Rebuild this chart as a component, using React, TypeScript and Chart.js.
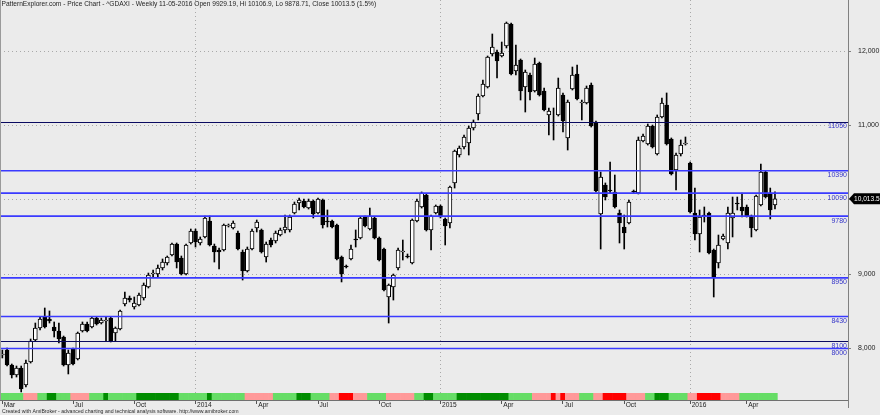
import React, { useEffect, useRef } from "react";
import { Chart, registerables } from "chart.js";

Chart.register(...registerables);

const TITLE =
  "PatternExplorer.com - Price Chart - ^GDAXI - Weekly 11-05-2016 Open 9929.19, Hi 10106.9, Lo 9878.71, Close 10013.5 (1.5%)";
const FOOTER =
  "Created with AmiBroker - advanced charting and technical analysis software. http://www.amibroker.com";

// Weekly bars, first bar = week ending 2013-03-22
const FIRST_WEEK_UTC = Date.UTC(2013, 2, 22);

const OPEN = [
  7913, 7980, 7779, 7644, 7738, 7510, 7819, 8115, 8276, 8424,
  8397, 8290, 8236, 8155, 7779, 7994, 7859, 8236, 8330, 8290,
  8410, 8343, 8370, 8410, 8209, 8263, 8599, 8679, 8558, 8585,
  8679, 8827, 9002, 9002, 9083, 9150, 9258, 9405, 9217, 9002,
  9419, 9580, 9419, 9500, 9715, 9379, 9325, 9325, 9647, 9620,
  9553, 9298, 9042, 9338, 9620, 9594, 9231, 9459, 9446, 9526,
  9594, 9594, 9822, 9957, 9984, 9889, 9984, 9822, 9997, 9715,
  9715, 9661, 9231, 9110, 9204, 9473, 9486, 9768, 9607, 9755,
  9486, 9338, 8693, 8827, 9083, 9298, 9244, 9150, 9715, 9903,
  10064, 9594, 9822, 9916, 9742, 9688, 10226, 10602, 10710, 10763,
  10965, 11153, 11395, 11516, 11960, 11987, 11933, 12067, 12363, 11731,
  11879, 11516, 11678, 11462, 11839, 11462, 11140, 11046, 11140, 11409,
  10831, 11489, 11691, 11301, 11301, 11543, 11046, 9809, 10199, 10131,
  10105, 9822, 9634, 9688, 10118, 10091, 10790, 10750, 10992, 10615,
  11113, 11274, 10817, 10400, 10615, 10750, 10494, 9822, 9540, 9795,
  9822, 9325, 9150, 9473, 9419, 9755, 9957, 9903, 9903, 9782,
  9594, 9930, 10373, 10091, 9929.19,
];
const HIGH = [
  7980, 8007, 7792, 7765, 7765, 7846, 8128, 8343, 8424, 8545,
  8505, 8357, 8343, 8168, 7980, 8007, 8222, 8357, 8357, 8424,
  8424, 8410, 8424, 8424, 8290, 8518, 8760, 8706, 8693, 8747,
  8881, 9015, 9056, 9123, 9204, 9244, 9419, 9419, 9244, 9405,
  9607, 9607, 9500, 9782, 9782, 9405, 9352, 9674, 9674, 9715,
  9580, 9325, 9365, 9607, 9728, 9607, 9432, 9486, 9580, 9620,
  9795, 9795, 9970, 10024, 10010, 10010, 9997, 10024, 10010, 9863,
  9728, 9674, 9244, 9123, 9392, 9594, 9768, 9782, 9889, 9768,
  9500, 9352, 8868, 9002, 9352, 9459, 9271, 9742, 10010, 10105,
  10078, 9795, 9930, 9930, 9755, 10185, 10669, 10723, 10871, 10992,
  11073, 11422, 11610, 11933, 12229, 12014, 12121, 12390, 12377, 12081,
  11893, 11745, 11704, 11906, 11852, 11503, 11234, 11234, 11637, 11436,
  11341, 11785, 11812, 11341, 11530, 11570, 11059, 10373, 10226, 10508,
  10333, 9863, 9795, 9997, 10131, 10844, 10884, 11019, 11005, 11140,
  11368, 11436, 10831, 10629, 10804, 10844, 10508, 10158, 9863, 9903,
  9836, 9338, 9526, 9540, 9903, 10037, 10037, 10091, 9930, 9795,
  10064, 10481, 10387, 10158, 10106.9,
];
const LOW = [
  7873, 7765, 7604, 7617, 7416, 7483, 7805, 8101, 8249, 8276,
  8343, 8155, 8074, 7765, 7658, 7779, 7846, 8222, 8222, 8276,
  8316, 8330, 8101, 8088, 8101, 8249, 8572, 8626, 8531, 8572,
  8652, 8814, 8962, 8962, 9056, 9123, 9244, 9083, 8989, 8989,
  9405, 9365, 9392, 9486, 9379, 9163, 9069, 9311, 9634, 9607,
  9325, 8921, 9029, 9325, 9567, 9284, 9163, 9365, 9419, 9513,
  9553, 9567, 9809, 9863, 9889, 9876, 9755, 9809, 9620, 9634,
  9620, 9190, 8895, 9083, 9190, 9365, 9473, 9634, 9594, 9473,
  9177, 8773, 8343, 8652, 9056, 9190, 9217, 9137, 9701, 9889,
  9580, 9325, 9809, 9755, 9392, 9620, 10158, 10575, 10683, 10602,
  10938, 11073, 11382, 11503, 11933, 11637, 11920, 12041, 11678, 11678,
  11341, 11180, 11341, 11449, 11395, 11194, 10871, 10804, 11126, 10911,
  10669, 11476, 11341, 11073, 11288, 10978, 10105, 9338, 9997, 10091,
  9889, 9419, 9338, 9674, 10091, 10078, 10777, 10736, 10696, 10602,
  11099, 10736, 10333, 10131, 10589, 10736, 9822, 9459, 9298, 9701,
  9271, 8693, 9083, 9459, 9338, 9500, 9863, 9768, 9768, 9500,
  9580, 9916, 10024, 9742, 9878.71,
];
const CLOSE = [
  7926, 7779, 7644, 7738, 7456, 7805, 8101, 8276, 8397, 8290,
  8370, 8236, 8128, 7779, 7940, 7792, 8209, 8330, 8236, 8410,
  8330, 8384, 8384, 8101, 8276, 8505, 8679, 8652, 8612, 8720,
  8854, 8989, 9015, 9083, 9163, 9231, 9405, 9163, 9002, 9392,
  9580, 9432, 9473, 9755, 9392, 9298, 9298, 9661, 9661, 9688,
  9338, 9042, 9338, 9580, 9701, 9298, 9405, 9392, 9553, 9594,
  9634, 9768, 9943, 9997, 9903, 9984, 9809, 10010, 9661, 9701,
  9634, 9204, 9002, 9096, 9338, 9459, 9755, 9647, 9782, 9486,
  9190, 8787, 8854, 8989, 9325, 9311, 9231, 9728, 9984, 10091,
  9594, 9782, 9916, 9768, 9647, 10172, 10656, 10696, 10844, 10965,
  11046, 11395, 11557, 11920, 12054, 11866, 11973, 12377, 11691, 11812,
  11462, 11718, 11449, 11825, 11409, 11207, 11194, 11032, 11503, 11059,
  11315, 11678, 11355, 11315, 11503, 10992, 10118, 10306, 10037, 10118,
  9903, 9688, 9553, 9970, 10105, 10804, 10857, 10992, 10710, 11113,
  11301, 10750, 10347, 10602, 10736, 10763, 9836, 9540, 9768, 9782,
  9284, 8962, 9392, 9513, 9822, 9822, 9943, 9849, 9782, 9620,
  10051, 10373, 10037, 9863, 10013.5,
];

// Trend ribbon under the bars: L = light green, D = dark green, P = pink, R = red
const RIBBON = [
  "LLLLL", "PPP", "LL", "DD", "LLL", "PPPP", "LLL", "D", "LLLLLL", "DDDDDDDDD",
  "LLLLLL", "D", "LLLLLLL", "PPPPPP", "LLLLL", "DDD", "LLLL", "PP", "RRR", "PPP",
  "LLLL", "PPPPPP", "LL", "DD", "LLLLL", "DDDDDDDDDDD", "LLLLL", "PPPP", "R", "P",
  "R", "PPP", "LLL", "PP", "RRRRR", "PPPP", "LL", "DDD", "LLLL", "PP",
  "RRRRR", "PPPP", "LLLLLLLL",
].join("").split("");

const TICK_INDEX = [0, 15, 28, 41, 54, 67, 80, 93, 106, 119, 132, 146, 158];
const TICK_TEXT = ["Mar", "Jul", "Oct", "2014", "Apr", "Jul", "Oct", "2015", "Apr", "Jul", "Oct", "2016", "Apr"];
const YEAR_INDEX = [41, 93, 146];

const LEVELS = [11050, 10390, 10090, 9780, 8950, 8430, 8100, 8000];
const LEVEL_DARK = [true, false, false, false, false, false, true, false];

const Y_MIN = 7308;
const Y_MAX = 12686;
const Y_TICKS = [8000, 9000, 10000, 11000, 12000];
const SLOTS = 180;

const FONT = '"Liberation Sans", Arial, sans-serif';
const BG = "#ebebeb";
const RIB_COLORS: Record<string, string> = { L: "#66dd66", D: "#008c00", P: "#ff9999", R: "#ff0000" };

function fitFontSize(ctx: CanvasRenderingContext2D, text: string, target: number, base: number) {
  ctx.font = `${base}px ${FONT}`;
  const w = ctx.measureText(text).width;
  return (base * target) / w;
}

const overlay = {
  id: "overlay",
  beforeDraw(chart: any) {
    const { ctx, width, height } = chart;
    ctx.save();
    ctx.fillStyle = BG;
    ctx.fillRect(0, 0, width, height);
    ctx.restore();
  },
  afterDatasetsDraw(chart: any) {
    const { ctx, chartArea } = chart;
    const ys = chart.scales.y;
    ctx.save();
    LEVELS.forEach((lv, k) => {
      const py = ys.getPixelForValue(lv);
      ctx.beginPath();
      if (LEVEL_DARK[k]) {
        ctx.strokeStyle = "#0a0a60";
        ctx.lineWidth = 1;
        const p = Math.round(py) + 0.5;
        ctx.moveTo(chartArea.left, p);
        ctx.lineTo(chartArea.right, p);
      } else {
        ctx.strokeStyle = "#3a3aff";
        ctx.lineWidth = 1.6;
        ctx.moveTo(chartArea.left, py);
        ctx.lineTo(chartArea.right, py);
      }
      ctx.stroke();
      ctx.fillStyle = "#3636c8";
      ctx.font = `7px ${FONT}`;
      ctx.textAlign = "right";
      ctx.textBaseline = "top";
      ctx.fillText(String(lv), chartArea.right - 1, py + 1);
    });
    ctx.restore();
  },
  afterDraw(chart: any) {
    const { ctx, chartArea } = chart;
    const ys = chart.scales.y;
    ctx.save();
    // left border and axis extension
    ctx.strokeStyle = "#9a9a9a";
    ctx.lineWidth = 1;
    ctx.beginPath();
    ctx.moveTo(0.5, 0);
    ctx.lineTo(0.5, chartArea.bottom);
    ctx.stroke();
    ctx.strokeStyle = "#808080";
    ctx.beginPath();
    ctx.moveTo(chartArea.right + 0.5, chartArea.bottom);
    ctx.lineTo(chartArea.right + 0.5, chartArea.bottom + 8);
    ctx.stroke();

    // title
    ctx.fillStyle = "#1e1e1e";
    ctx.textAlign = "left";
    ctx.textBaseline = "top";
    const ts = fitFontSize(ctx, TITLE, 375, 7);
    ctx.font = `${ts}px ${FONT}`;
    ctx.fillText(TITLE, 1.5, 1);

    // footer
    const fs = fitFontSize(ctx, FOOTER, 237, 5.5);
    ctx.font = `${fs}px ${FONT}`;
    ctx.fillStyle = "#2a2a2a";
    ctx.textBaseline = "middle";
    ctx.fillText(FOOTER, 2, 411.5);

    // last close tag
    const last = CLOSE.length - 1;
    const yc = ys.getPixelForValue(CLOSE[last]);
    const x0 = chartArea.right + 1;
    ctx.fillStyle = "#000";
    ctx.beginPath();
    ctx.moveTo(x0, yc);
    ctx.lineTo(x0 + 5, yc - 5.5);
    ctx.lineTo(880, yc - 5.5);
    ctx.lineTo(880, yc + 5.5);
    ctx.lineTo(x0 + 5, yc + 5.5);
    ctx.closePath();
    ctx.fill();
    ctx.fillStyle = "#fff";
    ctx.font = `6.6px ${FONT}`;
    ctx.textBaseline = "middle";
    ctx.textAlign = "left";
    ctx.fillText(
      CLOSE[last].toLocaleString("en-US", { minimumFractionDigits: 1, maximumFractionDigits: 1 }),
      x0 + 5,
      yc + 0.5
    );
    ctx.restore();
  },
};

export default function App() {
  const ref = useRef<HTMLCanvasElement>(null);

  useEffect(() => {
    document.body.style.margin = "0";
    const labels: string[] = [];
    for (let i = 0; i < SLOTS; i++) {
      if (i < OPEN.length) {
        labels.push(new Date(FIRST_WEEK_UTC + i * 7 * 86400000).toISOString().slice(0, 10));
      } else {
        labels.push("");
      }
    }
    const up = OPEN.map((o, i) => CLOSE[i] >= o);

    const chart = new Chart(ref.current as HTMLCanvasElement, {
      type: "bar",
      data: {
        labels,
        datasets: [
          {
            label: "body",
            data: OPEN.map((o, i) => [o, CLOSE[i]]) as any,
            backgroundColor: up.map((u) => (u ? "#ffffff" : "#000000")),
            borderColor: "#000000",
            borderWidth: 1,
            borderSkipped: false,
            barThickness: 4,
            minBarLength: 1,
            grouped: false,
            yAxisID: "y",
          } as any,
          {
            label: "wick",
            data: LOW.map((l, i) => [l, HIGH[i]]) as any,
            backgroundColor: "#000000",
            borderWidth: 0,
            barThickness: 1,
            grouped: false,
            yAxisID: "y",
          } as any,
          {
            label: "ribbon",
            data: RIBBON.map(() => 1),
            backgroundColor: RIBBON.map((c) => RIB_COLORS[c]),
            borderWidth: 0,
            barPercentage: 1,
            categoryPercentage: 1,
            grouped: false,
            yAxisID: "yr",
          } as any,
        ],
      },
      options: {
        responsive: false,
        maintainAspectRatio: false,
        animation: false,
        devicePixelRatio: 1,
        layout: { padding: 0 },
        plugins: { legend: { display: false }, tooltip: { enabled: false }, title: { display: false } },
        scales: {
          x: {
            type: "category",
            offset: true,
            grid: {
              offset: false,
              drawOnChartArea: true,
              color: (c: any) => (YEAR_INDEX.includes(c.index) ? "#a9a9a9" : "rgba(0,0,0,0)"),
              tickColor: (c: any) => (TICK_INDEX.includes(c.index) ? "#555555" : "rgba(0,0,0,0)"),
              tickLength: 4,
              lineWidth: 1,
            },
            border: { display: true, color: "#707070", width: 1, dash: [1, 3] },
            ticks: {
              autoSkip: false,
              maxRotation: 0,
              minRotation: 0,
              align: "start",
              labelOffset: 1.5,
              padding: -3,
              color: "#222222",
              font: { family: FONT, size: 6.6 },
              callback: (_v: any, index: number) => {
                const k = TICK_INDEX.indexOf(index);
                return k >= 0 ? TICK_TEXT[k] : "";
              },
            },
            afterFit: (s: any) => {
              s.height = 15;
              s.paddingLeft = 0;
              s.paddingRight = 0;
            },
          },
          y: {
            type: "linear",
            position: "right",
            min: Y_MIN,
            max: Y_MAX,
            grid: { color: "#a9a9a9", lineWidth: 1, tickLength: 3, tickColor: "#808080" },
            border: { display: true, color: "#808080", width: 1, dash: [1, 3] },
            afterBuildTicks: (s: any) => {
              s.ticks = Y_TICKS.map((v) => ({ value: v }));
            },
            ticks: {
              padding: 7,
              color: "#222222",
              font: { family: FONT, size: 7 },
              callback: (v: any) => Number(v).toLocaleString("en-US"),
            },
            afterFit: (s: any) => {
              s.width = 32;
              s.paddingTop = 0;
              s.paddingBottom = 0;
            },
          },
          yr: {
            type: "linear",
            display: false,
            min: 0,
            max: 60,
          },
        },
      } as any,
      plugins: [overlay],
    });
    return () => chart.destroy();
  }, []);

  return <canvas ref={ref} width={880} height={415} style={{ display: "block", width: 880, height: 415 }} />;
}
